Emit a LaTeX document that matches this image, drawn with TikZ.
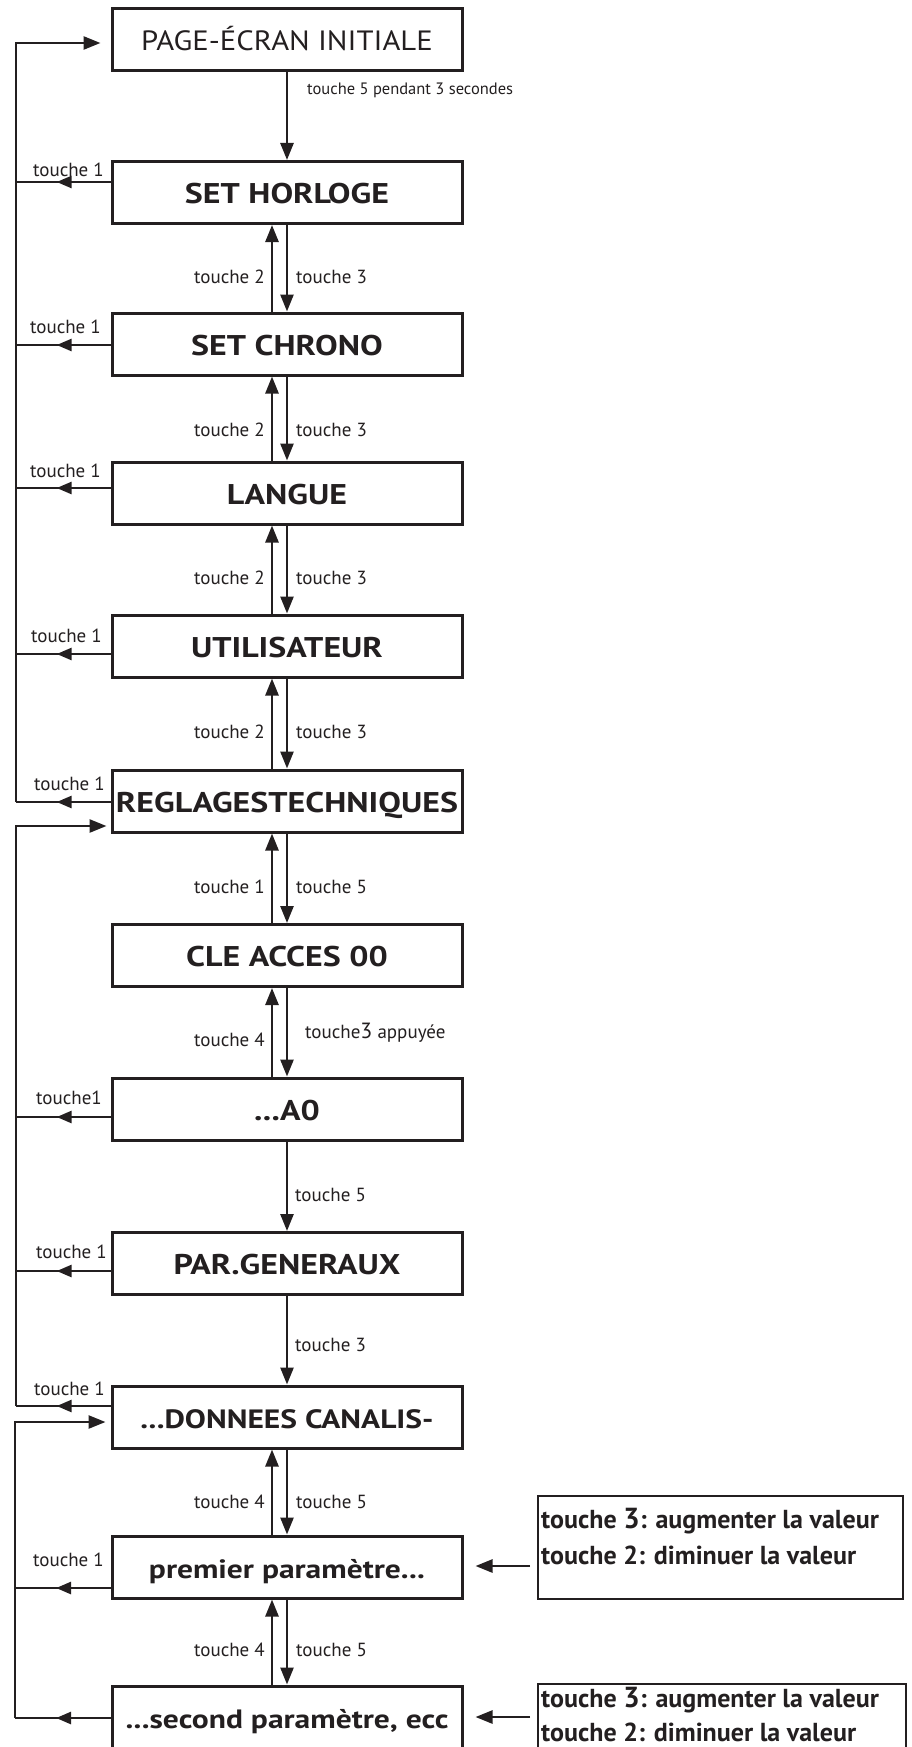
\documentclass[tikz,border=0pt]{standalone}
\usepackage{fontspec}
\setmainfont{PT Sans}
\newfontfamily\wideboldfamily[FakeStretch=1.19]{PT Sans}
\newfontfamily\widefamily[FakeStretch=1.1]{PT Sans}
\usetikzlibrary{arrows.meta,decorations.markings}

\definecolor{ink}{RGB}{35,31,32}

\newcommand\boxfont{\wideboldfamily\fontsize{28.5}{32}\selectfont\bfseries}
\newcommand\pagefont{\widefamily\fontsize{27.9}{32}\selectfont}
\newcommand\lowboxfont{\wideboldfamily\fontsize{26.5}{30}\selectfont\bfseries}
\newcommand\lblfont{\fontsize{19}{21}\selectfont}
\newcommand\smalllbl{\fontsize{16.5}{18}\selectfont}
\newcommand\rfont{\fontsize{26}{30}\selectfont\bfseries}
\newcommand\bigdigit[1]{{\fontsize{22}{22}\selectfont #1}}
\newcommand\bigbold[1]{{\fontsize{29}{29}\selectfont #1}}

\tikzset{
  box/.style={draw=ink, line width=3pt, minimum width=350pt, minimum height=62pt,
    inner sep=0pt, text height=22pt, text depth=0pt, font=\boxfont, text=ink},
  rbox/.style={draw=ink, line width=2.8pt, minimum height=103pt, inner sep=0pt},
  rtext/.style={font=\rfont, text=ink, inner sep=0pt},
  lbl/.style={font=\lblfont, text=ink, inner sep=0pt},
  conn/.style={draw=ink, line width=2.6pt},
  tip/.style={conn, -{Triangle[length=17pt,width=13pt]}},
  back/.style={conn, decoration={markings,
      mark=at position 0.57 with {\arrow{Triangle[length=15pt,width=12pt]}}},
    postaction={decorate}},
}

\begin{document}
\begin{tikzpicture}[x=1pt, y=-1pt]
\useasboundingbox (0,0) rectangle (911,1747);
\clip (0,0) rectangle (911,1747);

% main chain of screens
\node[box, font=\pagefont] (page) at (287,40) {PAGE-ÉCRAN INITIALE};
\node[box] (hor) at (287,192.5) {SET HORLOGE};
\node[box] (chr) at (287,344) {SET CHRONO};
\node[box] (lan) at (287,493) {LANGUE};
\node[box] (uti) at (287,646) {UTILISATEUR};
\node[box] (reg) at (287,801) {REGLAGESTECHNIQUES};
\node[box] (cle) at (287,955.5) {CLE ACCES 00};
\node[box] (aze) at (287,1109) {...A0};
\node[box] (par) at (287,1263.5) {PAR.GENERAUX};
\node[box, font=\lowboxfont] (don) at (287,1417) {...DONNEES CANALIS-};
\node[box, font=\lowboxfont] (pre) at (287,1567) {premier paramètre...};
\node[box, font=\lowboxfont] (sec) at (287,1717) {...second paramètre, ecc};

% value-change boxes on the right
\node[rbox, minimum width=365pt] (r1) at (720.5,1547.5) {};
\node[rbox, minimum width=368pt] (r2) at (722,1735.5) {};
\node[rtext, anchor=base west] (r1a) at (541,1528) {touche \bigbold{3}: augmenter la valeur};
\node[rtext, anchor=base west] (r1b) at (541,1564) {touche 2: diminuer la valeur};
\node[rtext, anchor=base west] (r2a) at (541,1707) {touche \bigbold{3}: augmenter la valeur};
\node[rtext, anchor=base west] (r2b) at (541,1741) {touche 2: diminuer la valeur};

\coordinate (r1in) at (530,1566);
\coordinate (r2in) at (530,1717);
\draw[tip, shorten >=12pt] (r1in) -- (r1in -| pre.east);
\draw[tip, shorten >=12pt] (r2in) -- (r2in -| sec.east);

% vertical transitions
\draw[tip] (page) -- (hor);
\node[lbl, font=\smalllbl, anchor=west] (l0) at (307,90) {touche 5 pendant 3 secondes};

\draw[tip] (hor) -- (chr);
\draw[tip] ([xshift=-15pt]chr.north) -- ([xshift=-15pt]hor.south);
\node[lbl, anchor=east] (l1a) at (265,277) {touche 2};
\node[lbl, anchor=west] (l1b) at (296,277) {touche 3};

\draw[tip] (chr) -- (lan);
\draw[tip] ([xshift=-15pt]lan.north) -- ([xshift=-15pt]chr.south);
\node[lbl, anchor=east] (l2a) at (265,430) {touche 2};
\node[lbl, anchor=west] (l2b) at (296,430) {touche 3};

\draw[tip] (lan) -- (uti);
\draw[tip] ([xshift=-15pt]uti.north) -- ([xshift=-15pt]lan.south);
\node[lbl, anchor=east] (l3a) at (265,578) {touche 2};
\node[lbl, anchor=west] (l3b) at (296,578) {touche 3};

\draw[tip] (uti) -- (reg);
\draw[tip] ([xshift=-15pt]reg.north) -- ([xshift=-15pt]uti.south);
\node[lbl, anchor=east] (l4a) at (265,732) {touche 2};
\node[lbl, anchor=west] (l4b) at (296,732) {touche 3};

\draw[tip] (reg) -- (cle);
\draw[tip] ([xshift=-15pt]cle.north) -- ([xshift=-15pt]reg.south);
\node[lbl, anchor=east] (l5a) at (265,887) {touche 1};
\node[lbl, anchor=west] (l5b) at (296,887) {touche 5};

\draw[tip] (cle) -- (aze);
\draw[tip] ([xshift=-15pt]aze.north) -- ([xshift=-15pt]cle.south);
\node[lbl, anchor=east] (l6a) at (265,1040) {touche 4};
\node[lbl, anchor=west] (l6b) at (305,1033) {touche\bigdigit{3} appuyée};

\draw[tip] (aze) -- (par);
\node[lbl, anchor=west] (l7) at (295,1195) {touche 5};

\draw[tip] (par) -- (don);
\node[lbl, anchor=west] (l8) at (295,1345) {touche 3};

\draw[tip] (don) -- (pre);
\draw[tip] ([xshift=-15pt]pre.north) -- ([xshift=-15pt]don.south);
\node[lbl, anchor=east] (l9a) at (265,1502) {touche 4};
\node[lbl, anchor=west] (l9b) at (296,1502) {touche 5};

\draw[tip] (pre) -- (sec);
\draw[tip] ([xshift=-15pt]sec.north) -- ([xshift=-15pt]pre.south);
\node[lbl, anchor=east] (l10a) at (265,1650) {touche 4};
\node[lbl, anchor=west] (l10b) at (296,1650) {touche 5};

% return paths on the left (touche 1)
\coordinate (railA) at (16,43);
\coordinate (railB) at (16,826);
\coordinate (railC) at (15,1422);

\coordinate (hor1) at ([yshift=10.5pt]hor.west);
\coordinate (chr1) at ([yshift=-1pt]chr.west);
\coordinate (lan1) at ([yshift=5pt]lan.west);
\coordinate (uti1) at ([yshift=-8pt]uti.west);
\coordinate (reg1) at ([yshift=-1pt]reg.west);
\coordinate (aze1) at ([yshift=-8pt]aze.west);
\coordinate (par1) at ([yshift=-7.5pt]par.west);
\coordinate (don1) at ([yshift=11pt]don.west);
\coordinate (pre1) at ([yshift=-21pt]pre.west);
\coordinate (sec1) at ([yshift=-1pt]sec.west);

\draw[tip, shorten >=10pt] (reg1 -| railA) -- (railA) -- (railA -| page.west);
\draw[tip, shorten >=4pt] (don1 -| railB) -- (railB) -- (railB -| reg.west);
\draw[tip, shorten >=5pt] (sec1 -| railC) -- (railC) -- (railC -| don.west);

\draw[back] (hor1) -- (hor1 -| railA);
\draw[back] (chr1) -- (chr1 -| railA);
\draw[back] (lan1) -- (lan1 -| railA);
\draw[back] (uti1) -- (uti1 -| railA);
\draw[back] (reg1) -- (reg1 -| railA);
\draw[back] (aze1) -- (aze1 -| railB);
\draw[back] (par1) -- (par1 -| railB);
\draw[back] (don1) -- (don1 -| railB);
\draw[back] (pre1) -- (pre1 -| railC);
\draw[back] (sec1) -- (sec1 -| railC);

\node[lbl, anchor=east] (k1) at (104,170) {touche 1};
\node[lbl, anchor=east] (k2) at (101,327) {touche 1};
\node[lbl, anchor=east] (k3) at (101,471) {touche 1};
\node[lbl, anchor=east] (k4) at (102,636) {touche 1};
\node[lbl, anchor=east] (k5) at (105,784) {touche 1};
\node[lbl, anchor=east] (k6) at (102,1098) {touche1};
\node[lbl, anchor=east] (k7) at (107,1252) {touche 1};
\node[lbl, anchor=east] (k8) at (105,1389) {touche 1};
\node[lbl, anchor=east] (k9) at (104,1560) {touche 1};
\end{tikzpicture}
\end{document}
